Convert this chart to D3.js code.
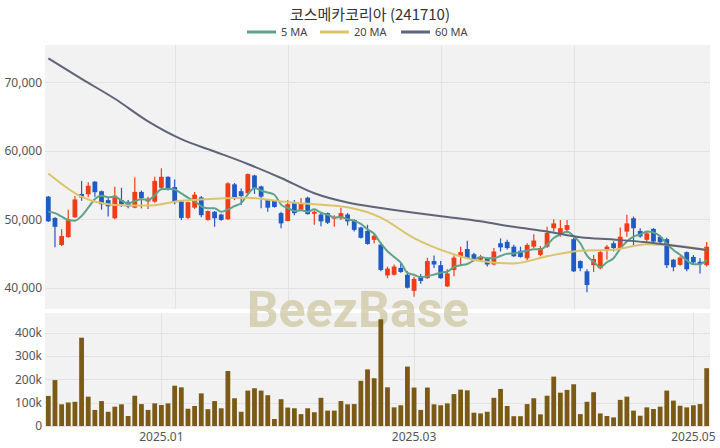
<!DOCTYPE html>
<html><head><meta charset="utf-8">
<script src="https://cdn.jsdelivr.net/npm/d3@7/dist/d3.min.js"></script>
<style>
html,body{margin:0;padding:0;background:#fff;}
svg{display:block;font-family:"Noto Sans CJK KR","Noto Sans",sans-serif;}
</style></head>
<body><svg id="c" width="720" height="448"></svg>
<script>
const title = "코스메카코리아 (241710)";
const dates = [
"2024-12-05","2024-12-06","2024-12-09","2024-12-10","2024-12-11","2024-12-12","2024-12-13","2024-12-16","2024-12-17","2024-12-18",
"2024-12-19","2024-12-20","2024-12-23","2024-12-24","2024-12-26","2024-12-27","2024-12-30",
"2025-01-02","2025-01-03","2025-01-06","2025-01-07","2025-01-08","2025-01-09","2025-01-10","2025-01-13","2025-01-14","2025-01-15",
"2025-01-16","2025-01-17","2025-01-20","2025-01-21","2025-01-22","2025-01-23","2025-01-24","2025-01-31",
"2025-02-03","2025-02-04","2025-02-05","2025-02-06","2025-02-07","2025-02-10","2025-02-11","2025-02-12","2025-02-13","2025-02-14",
"2025-02-17","2025-02-18","2025-02-19","2025-02-20","2025-02-21","2025-02-24","2025-02-25","2025-02-26","2025-02-27","2025-02-28",
"2025-03-04","2025-03-05","2025-03-06","2025-03-07","2025-03-10","2025-03-11","2025-03-12","2025-03-13","2025-03-14","2025-03-17",
"2025-03-18","2025-03-19","2025-03-20","2025-03-21","2025-03-24","2025-03-25","2025-03-26","2025-03-27","2025-03-28","2025-03-31",
"2025-04-01","2025-04-02","2025-04-03","2025-04-04","2025-04-07","2025-04-08","2025-04-09","2025-04-10","2025-04-11","2025-04-14",
"2025-04-15","2025-04-16","2025-04-17","2025-04-18","2025-04-21","2025-04-22","2025-04-23","2025-04-24","2025-04-25","2025-04-28",
"2025-04-29","2025-04-30","2025-05-02","2025-05-07","2025-05-08"];
const open  = [53300,50200,46250,47400,50300,53700,53650,55500,54100,52800,50150,52800,52550,51700,54000,52600,52570,54600,56200,54700,
52600,50200,51700,53200,49900,51100,50700,50000,55100,54100,53800,56400,54800,52800,52700,50900,49750,52400,51400,53150,
50800,50700,50900,50100,50150,50700,49900,48800,48300,47000,46300,41800,41900,42900,41900,39550,41700,41400,43900,43300,
40200,42600,44500,45650,44900,44100,44200,43400,46500,46700,46000,45400,44300,46000,44800,46000,48700,47700,48450,47100,
43900,42400,43300,42850,45400,46500,45800,48200,50150,48300,47000,48600,47450,47100,44100,43350,45200,44500,43800,43300];
const high  = [53400,50300,48550,51400,53400,55600,55400,55550,54200,53100,54750,54600,52800,56100,54200,53300,56200,57450,56300,55800,
52800,52600,54000,53400,51300,51200,50800,55400,55300,54500,56700,56500,54900,52900,52800,51100,52800,52800,53100,53300,
51300,51100,51000,50600,51700,50900,50000,48900,49200,48000,46600,43100,43400,43600,42400,41600,42000,44400,44700,43900,
42700,44700,46000,46850,45100,44800,44400,45800,47200,47000,46300,46000,46500,47800,46100,48900,50000,49900,49900,47300,
44000,42700,44800,45500,46250,46800,48800,50650,50400,48700,48200,48700,47700,47300,44200,44600,45300,44800,44300,46700];
const low   = [49600,45900,46100,47300,50200,52700,53200,53300,51400,50400,50000,51800,51600,51600,51600,51500,52400,54300,54200,52200,
49900,50000,51500,50300,49800,48900,49800,49900,52800,52100,53600,53700,51600,51100,51700,48700,49700,50600,51300,50700,
49200,49000,49300,48900,49900,49100,48200,47200,46300,46500,42400,41400,41800,42200,39900,38700,40600,41300,42900,41300,
40100,41700,43300,44200,44000,43900,43100,43300,45300,45600,44500,44400,44000,45800,44600,45800,48200,47450,47950,42300,
42400,39350,42300,42700,44100,45300,45700,47450,46250,47300,46800,46600,46250,42900,42400,43200,42400,43400,42100,43100];
const close = [49700,48900,47550,49900,52900,53200,54900,53950,52200,51900,53450,52200,51850,54000,53100,53000,55600,56200,54400,52500,
50200,52500,53600,50600,51200,50150,49900,55250,53100,53400,56600,54500,53300,51700,51800,49400,52200,50900,52300,50750,
51100,49700,49500,50300,50900,49700,48450,47300,46400,47600,42600,42800,43100,42300,40000,41300,41000,43900,43400,41400,
42100,44400,45200,44300,44100,44500,43400,45300,45900,45800,44600,44500,46250,46900,45800,48000,49400,48700,49150,42400,
42850,40400,44200,45200,46000,45800,47450,49400,48700,47500,47950,46750,46650,43300,43000,44400,42700,43700,43450,46000];
const volume = [129000,197000,93000,101000,104000,379000,126000,69000,107000,61000,83000,93000,43000,130000,94000,69000,97000,90000,97000,173000,
166000,74000,86000,140000,72000,107000,76000,236000,119000,61000,152000,162000,152000,132000,30000,115000,79000,76000,51000,76000,
59000,121000,66000,66000,107000,93000,94000,194000,243000,205000,458000,166000,80000,89000,255000,165000,69000,165000,93000,89000,
97000,137000,156000,153000,57000,54000,61000,121000,159000,86000,42000,42000,94000,119000,50000,130000,212000,143000,155000,179000,
51000,104000,145000,54000,43000,37000,112000,126000,66000,44000,80000,73000,83000,152000,109000,87000,80000,89000,94000,248000];
const ma5Head = [51100,50900,50400,49900];
const maIdx  = [0,5,10,15,20,25,30,35,40,45,50,55,60,65,70,75,80,85,90,95,99];
const ma20   = [56700,53300,52100,52000,52700,53000,53150,52590,52200,51750,50250,47250,45200,43900,43550,44600,45420,45560,46350,46100,45520];
const ma60   = [73500,70500,67600,64300,61700,59900,58070,56030,53800,52450,51650,50950,50340,49700,48900,48230,47360,47040,46640,46030,45520];
const priceTicks = [40000,50000,60000,70000];
const volTicks = [0,100000,200000,300000,400000];
const xTickLabels = ["2025.01","2025.03","2025.05"];
const xTickDates = ["2025-01-02","2025-03-04","2025-05-02"];
const priceGridDates = ["2025-01-06","2025-02-04","2025-03-10","2025-04-07"];

const UP="#f03c17", DOWN="#1f5bc4", VOL="#7a5a14";
const C5="#5ea38a", C20="#dcc46a", C60="#5e6479";

const svg = d3.select("#c");
const L=45, R=710, PT=45, PB=309, VT=313, VB=427;
const x = d3.scaleBand().domain(dates).range([L,R]).paddingInner(0.28).paddingOuter(0.14);
const xc = d => x(d)+x.bandwidth()/2;
const y = d3.scaleLinear().domain([36900,75450]).range([PB,PT]);
const yv = d3.scaleLinear().domain([0,485000]).range([426,VT]);

// backgrounds
svg.append("rect").attr("x",L).attr("y",PT).attr("width",R-L).attr("height",PB-PT).attr("fill","#f2f2f2");
svg.append("rect").attr("x",L).attr("y",VT).attr("width",R-L).attr("height",VB-VT).attr("fill","#f2f2f2");

// grids
const g = svg.append("g").attr("stroke","#e3e3e3").attr("stroke-width",1);
priceTicks.forEach(t=>g.append("line").attr("x1",L).attr("x2",R).attr("y1",Math.round(y(t))+0.5).attr("y2",Math.round(y(t))+0.5));
priceGridDates.forEach(d=>g.append("line").attr("x1",Math.round(xc(d))+0.5).attr("x2",Math.round(xc(d))+0.5).attr("y1",PT).attr("y2",PB));
volTicks.forEach(t=>g.append("line").attr("x1",L).attr("x2",R).attr("y1",Math.round(yv(t))+0.5).attr("y2",Math.round(yv(t))+0.5));
xTickDates.forEach(d=>g.append("line").attr("x1",Math.round(xc(d))+0.5).attr("x2",Math.round(xc(d))+0.5).attr("y1",VT).attr("y2",VB));

// watermark
svg.append("text").attr("x",358).attr("y",327).attr("text-anchor","middle")
  .attr("font-family","Roboto, 'Noto Sans', sans-serif").attr("font-weight",700).attr("font-size",50)
  .attr("fill","#cfc7a3").attr("opacity",0.75).text("BeezBase");

// axes
const yAxis = d3.axisLeft(y).tickValues(priceTicks).tickFormat(d3.format(",")).tickSize(0).tickPadding(3);
const ya = svg.append("g").attr("transform",`translate(${L},0)`).call(yAxis);
const yvAxis = d3.axisLeft(yv).tickValues(volTicks).tickFormat(d=>d===0?"0":(d/1000)+"k").tickSize(0).tickPadding(3);
const yva = svg.append("g").attr("transform",`translate(${L},0)`).call(yvAxis);
const xAxis = d3.axisBottom(x).tickValues(xTickDates).tickFormat((d,i)=>xTickLabels[i]).tickSize(0).tickPadding(5);
const xa = svg.append("g").attr("transform",`translate(0,${VB})`).call(xAxis);
[ya,yva,xa].forEach(a=>{a.select(".domain").remove();a.selectAll("text").attr("font-size",12).attr("fill","#555").attr("font-family","'Noto Sans','Open Sans',sans-serif");});

// candles
const data = dates.map((d,i)=>({d,o:open[i],h:high[i],l:low[i],c:close[i],v:volume[i]}));
const cg = svg.append("g");
cg.selectAll("line.w").data(data).join("line")
  .attr("x1",d=>xc(d.d)).attr("x2",d=>xc(d.d)).attr("y1",d=>y(d.h)).attr("y2",d=>y(d.l))
  .attr("stroke",d=>d.c>=d.o?UP:DOWN).attr("stroke-width",1.2);
cg.selectAll("rect").data(data).join("rect")
  .attr("x",d=>x(d.d)).attr("width",x.bandwidth())
  .attr("y",d=>y(Math.max(d.o,d.c))).attr("height",d=>Math.max(1,Math.abs(y(d.o)-y(d.c))))
  .attr("fill",d=>d.c>=d.o?UP:DOWN);

// moving averages
const ma5 = close.map((c,i)=> i<4 ? ma5Head[i] : d3.mean(close.slice(i-4,i+1)));
const line = d3.line().curve(d3.curveMonotoneX);
svg.append("path").attr("d",line(ma5.map((v,i)=>[xc(dates[i]),y(v)]))).attr("fill","none").attr("stroke",C5).attr("stroke-width",2);
svg.append("path").attr("d",line(ma20.map((v,i)=>[xc(dates[maIdx[i]]),y(v)]))).attr("fill","none").attr("stroke",C20).attr("stroke-width",2);
svg.append("path").attr("d",line(ma60.map((v,i)=>[xc(dates[maIdx[i]]),y(v)]))).attr("fill","none").attr("stroke",C60).attr("stroke-width",2);

// volume
svg.append("g").selectAll("rect").data(data).join("rect")
  .attr("x",d=>x(d.d)).attr("width",x.bandwidth()).attr("y",d=>yv(d.v)).attr("height",d=>yv(0)-yv(d.v)).attr("fill",VOL);

// title & legend
svg.append("text").attr("x",370).attr("y",20).attr("text-anchor","middle").attr("font-size",15).attr("fill","#333").text(title);
const leg = [{n:"5 MA",c:C5,x:247},{n:"20 MA",c:C20,x:320},{n:"60 MA",c:C60,x:401}];
leg.forEach(l=>{
  svg.append("line").attr("x1",l.x).attr("x2",l.x+29).attr("y1",32).attr("y2",32).attr("stroke",l.c).attr("stroke-width",3);
  svg.append("text").attr("x",l.x+34).attr("y",36).attr("font-size",11).attr("fill","#444").attr("font-family","'Noto Sans',sans-serif").text(l.n);
});
</script></body></html>
